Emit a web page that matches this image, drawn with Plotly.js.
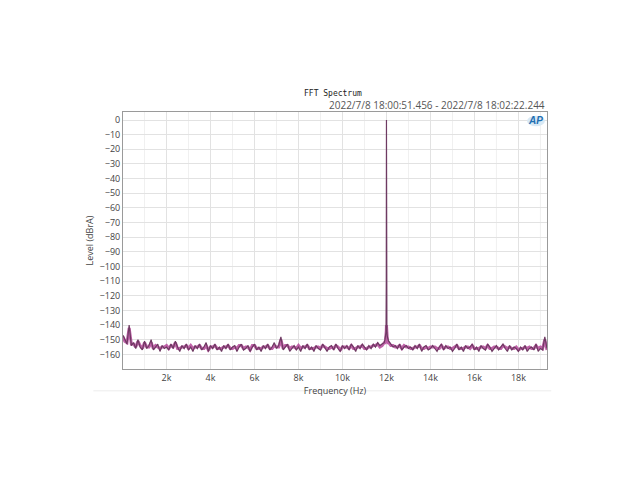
<!DOCTYPE html>
<html><head><meta charset="utf-8">
<script src="https://cdn.plot.ly/plotly-3.0.1.min.js"></script>
<style>html,body{margin:0;padding:0;background:#fff}#chart{width:640px;height:480px}</style>
</head><body><div id="chart"></div>
<script>
// FFT bin grid (Hz): 20 Hz, then 100 Hz .. 19300 Hz every 100 Hz
var binStart = 100, binStep = 100, binCount = 193;
var firstBin = 20;

// Channel A (dark purple) level, dBrA
var levelA = [
-147,-150,-153,-140,-154,-152,-156,-150,-155,-157,-151,
-156,-154,-150,-157,-155,-153,-158,-154,-156,-155,
-157,-153,-156,-151,-155,-158,-154,-156,-153,-157,
-155,-158,-154,-156,-153,-157,-155,-152,-158,-154,
-156,-153,-157,-155,-158,-154,-156,-153,-157,-155,
-154,-158,-155,-153,-157,-156,-154,-158,-155,-153,
-157,-155,-158,-154,-156,-153,-157,-155,-152,-156,
-154,-148,-157,-155,-153,-158,-156,-154,-157,-155,
-158,-154,-156,-153,-157,-155,-158,-154,-156,-157,
-153,-156,-158,-155,-154,-157,-153,-156,-158,-154,
-156,-154,-157,-153,-155,-158,-154,-156,-153,-155,
-157,-154,-156,-153,-155,-152,-154,-153,-152,0,
-151,-153,-155,-154,-156,-153,-157,-155,-154,-156,
-155,-157,-154,-156,-153,-158,-155,-154,-157,-156,
-154,-156,-158,-155,-153,-157,-154,-156,-155,-158,
-156,-153,-157,-155,-158,-154,-156,-155,-153,-157,
-155,-158,-154,-156,-157,-153,-155,-158,-156,-154,
-157,-155,-153,-156,-158,-154,-157,-155,-156,-158,
-155,-157,-154,-158,-156,-155,-157,-153,-158,-156,
-157,-148,-156
];

// Channel B (magenta) level, dBrA
var levelB = [
-148,-151,-152,-142,-153,-153,-155,-151,-154,-156,-152,
-155,-155,-152,-156,-154,-155,-156,-155,-155,-154,
-156,-154,-155,-152,-156,-156,-155,-155,-154,-156,
-154,-156,-155,-155,-154,-156,-156,-154,-157,-155,
-155,-154,-156,-156,-156,-155,-155,-154,-156,-156,
-155,-156,-154,-154,-156,-155,-155,-157,-154,-154,
-156,-156,-156,-155,-155,-154,-156,-156,-154,-155,
-155,-150,-156,-154,-154,-156,-155,-155,-156,-154,
-156,-155,-155,-154,-156,-156,-156,-155,-155,-156,
-154,-155,-156,-156,-155,-156,-154,-155,-157,-155,
-155,-155,-156,-154,-156,-156,-155,-155,-154,-156,
-156,-155,-155,-154,-154,-153,-155,-154,-152,-140,
-152,-154,-154,-155,-155,-154,-156,-154,-155,-155,
-156,-156,-155,-155,-154,-156,-156,-155,-156,-155,
-155,-155,-156,-156,-154,-156,-155,-155,-156,-156,
-155,-154,-156,-156,-156,-155,-155,-156,-154,-156,
-156,-156,-155,-155,-156,-154,-156,-156,-155,-155,
-156,-156,-154,-155,-156,-155,-156,-156,-155,-157,
-156,-156,-155,-156,-155,-156,-156,-154,-156,-155,
-156,-150,-157
];

// Fine bins around the 12 kHz tone
var peakFreq   = [11930, 11960, 11980, 11992, 12008, 12020, 12040, 12070];
var peakLevelA = [-150, -148, -145, -110, -110, -145, -148, -150];
var peakLevelB = [-152, -150, -148, -144, -144, -148, -150, -152];

var xTickVals = [2000, 4000, 6000, 8000, 10000, 12000, 14000, 16000, 18000];
var xTickText = ["2k","4k","6k","8k","10k","12k","14k","16k","18k"];
var yTickVals = [0,-10,-20,-30,-40,-50,-60,-70,-80,-90,-100,-110,-120,-130,-140,-150,-160];

function buildSeries(levels, pLevels) {
  var pts = [];
  pts.push([firstBin, levels[0]]);
  for (var i = 0; i < binCount; i++) pts.push([binStart + i * binStep, levels[i + 1]]);
  for (var j = 0; j < peakFreq.length; j++) pts.push([peakFreq[j], pLevels[j]]);
  pts.sort(function (a, b) { return a[0] - b[0]; });
  return { x: pts.map(function (p) { return p[0]; }), y: pts.map(function (p) { return p[1]; }) };
}
var sA = buildSeries(levelA, peakLevelA);
var sB = buildSeries(levelB, peakLevelB);

var traces = [
  { x: sB.x, y: sB.y, type: 'scatter', mode: 'lines', line: { color: '#b8509f', width: 3 }, opacity: 0.9, hoverinfo: 'skip', showlegend: false },
  { x: sA.x, y: sA.y, type: 'scatter', mode: 'lines', line: { color: '#6e3a62', width: 1.2 }, hoverinfo: 'skip', showlegend: false }
];

// minor vertical grid at odd kHz
var minorShapes = [];
[1000,3000,5000,7000,9000,11000,13000,15000,17000,19000].forEach(function (f) {
  minorShapes.push({ type: 'line', xref: 'x', yref: 'paper', x0: f, x1: f, y0: 0, y1: 1, line: { color: '#f0f0f0', width: 1 }, layer: 'below' });
});

var layout = {
  width: 640, height: 480,
  margin: { l: 123, r: 93, t: 112, b: 111 },
  paper_bgcolor: '#ffffff', plot_bgcolor: '#ffffff',
  showlegend: false,
  font: { family: 'Open Sans, sans-serif', color: '#444' },
  xaxis: {
    range: [20, 19300], tickvals: xTickVals, ticktext: xTickText,
    showgrid: true, gridcolor: '#e2e2e2', gridwidth: 1, zeroline: false,
    showline: true, linecolor: '#9a9a9a', linewidth: 1, mirror: true,
    ticks: '', tickfont: { size: 9, color: '#444' },
    title: { text: 'Frequency (Hz)', font: { size: 9, color: '#444' }, standoff: 2 }
  },
  yaxis: {
    range: [-170, 5.5], tickvals: yTickVals,
    showgrid: true, gridcolor: '#e2e2e2', gridwidth: 1, zeroline: false,
    showline: true, linecolor: '#9a9a9a', linewidth: 1, mirror: true,
    ticks: '', tickfont: { size: 9, color: '#444' },
    title: { text: 'Level (dBrA)', font: { size: 9, color: '#444' }, standoff: 4 }
  },
  shapes: minorShapes.concat([
    { type: 'line', xref: 'paper', yref: 'paper', x0: -0.07, x1: 1.01, y0: -0.085, y1: -0.085, line: { color: '#ececec', width: 1 } },
    { type: 'circle', xref: 'paper', yref: 'paper', x0: 0.953, x1: 0.995, y0: 0.945, y1: 0.985, fillcolor: '#d8e9f5', line: { width: 0 } }
  ]),
  annotations: [
    { text: 'FFT Spectrum', xref: 'paper', yref: 'paper', x: 0.495, y: 1.071, xanchor: 'center', yanchor: 'middle', showarrow: false, font: { family: 'DejaVu Sans Mono, monospace', size: 8, color: '#222' } },
    { text: '2022/7/8 18:00:51.456 - 2022/7/8 18:02:22.244', xref: 'paper', yref: 'paper', x: 1, y: 1.027, xanchor: 'right', yanchor: 'middle', showarrow: false, font: { family: 'Open Sans, sans-serif', size: 10, color: '#555' } },
    { text: '<b><i>AP</i></b>', xref: 'paper', yref: 'paper', x: 0.974, y: 0.965, xanchor: 'center', yanchor: 'middle', showarrow: false, font: { family: 'Liberation Sans, sans-serif', size: 10, color: '#1f6fb2' } }
  ]
};

Plotly.newPlot('chart', traces, layout, { staticPlot: true, displayModeBar: false });
</script>
</body></html>
